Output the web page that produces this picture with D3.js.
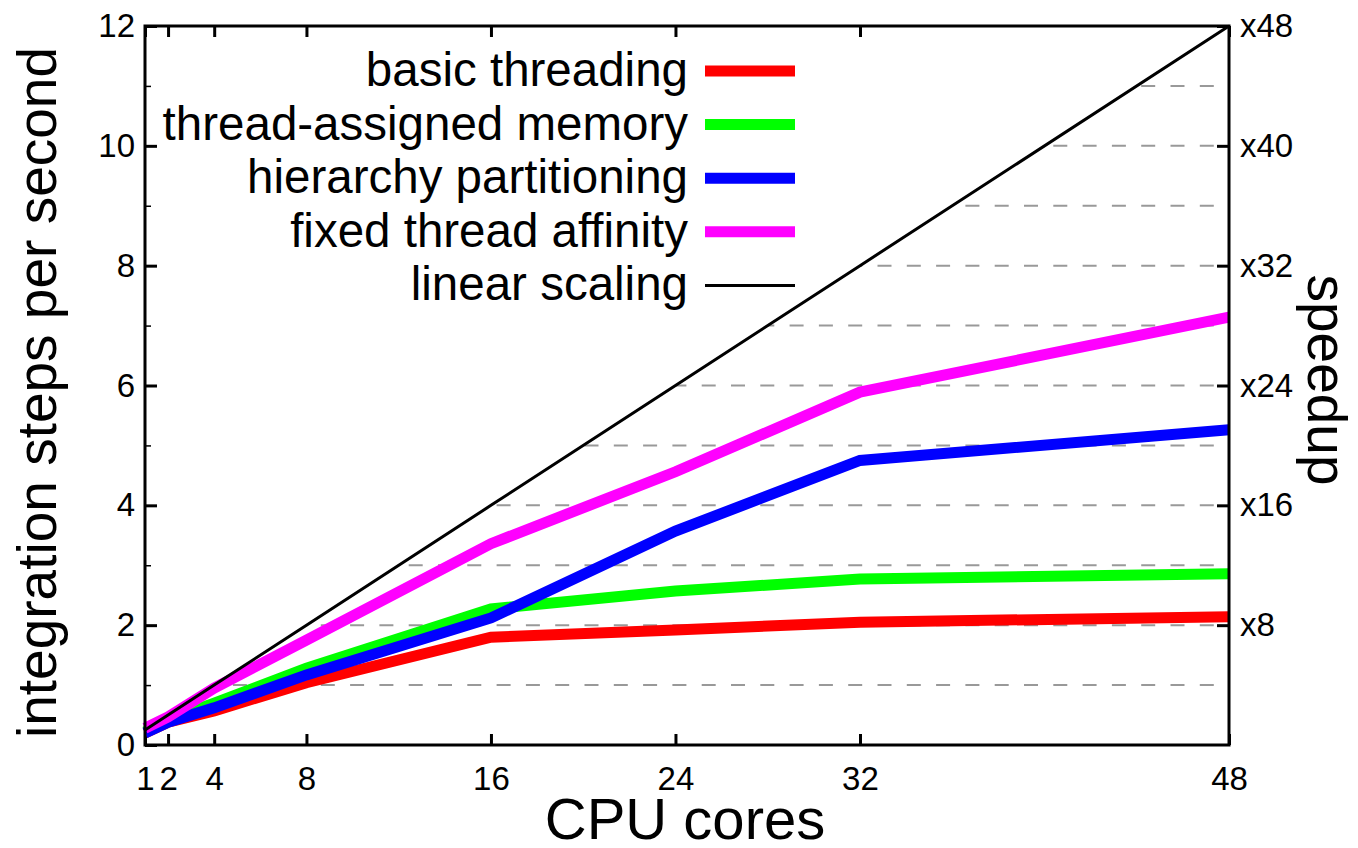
<!DOCTYPE html>
<html>
<head>
<meta charset="utf-8">
<script src="https://cdn.jsdelivr.net/npm/d3@7"></script>
<style>
  body { margin: 0; background: #fff; }
  svg { display: block; }
  text { font-family: "Liberation Sans", Arial, Helvetica, sans-serif; fill: #000; }
</style>
</head>
<body>
<div id="chart"></div>
<script>
// measured scaling: steps per second against core count
const cores = [1, 2, 4, 8, 16, 24, 32, 48];
const basicThreading = [0.20, 0.38, 0.57, 1.04, 1.80, 1.92, 2.05, 2.14];
const threadMemory = [0.22, 0.42, 0.70, 1.28, 2.27, 2.57, 2.77, 2.86];
const hierarchyPart = [0.20, 0.38, 0.62, 1.17, 2.12, 3.57, 4.75, 5.26];
const fixedAffinity = [0.28, 0.47, 0.95, 1.75, 3.36, 4.56, 5.89, 7.14];
const linearScaling = [0.25, 0.5, 1, 2, 4, 6, 8, 12];

const yTicks = [0, 2, 4, 6, 8, 10, 12];
const yMinorTicks = [1, 3, 5, 7, 9, 11];
const gridLevels = [1, 2, 3, 4, 5, 6, 7, 8, 9, 10, 11];
const speedupTicks = [8, 16, 24, 32, 40, 48];

const series = [
  { name: "basic threading", values: basicThreading, color: "#ff0000", width: 11 },
  { name: "thread-assigned memory", values: threadMemory, color: "#00ff00", width: 11 },
  { name: "hierarchy partitioning", values: hierarchyPart, color: "#0000ff", width: 11 },
  { name: "fixed thread affinity", values: fixedAffinity, color: "#ff00ff", width: 11 },
  { name: "linear scaling", values: linearScaling, color: "#000000", width: 3 }
];

const W = 1358, H = 848;
const plotLeft = 145, plotRight = 1229, plotTop = 26, plotBottom = 745;

const svg = d3.select("#chart").append("svg")
  .attr("width", W)
  .attr("height", H);

const x = d3.scaleLinear().domain([1, 48]).range([plotLeft, plotRight]);
const y = d3.scaleLinear().domain([0, 12]).range([plotBottom, plotTop]);
const y2 = d3.scaleLinear().domain([0, 48]).range([plotBottom, plotTop]);

// grid only shows below the linear scaling line
const area = d3.area()
  .x((d, i) => x(cores[i]))
  .y0(y(0))
  .y1(d => y(d));

svg.append("defs").append("clipPath")
  .attr("id", "underLinear")
  .append("path")
  .attr("d", area(linearScaling));

svg.append("g")
  .attr("clip-path", "url(#underLinear)")
  .selectAll("line")
  .data(gridLevels)
  .join("line")
  .attr("x1", x(1))
  .attr("x2", x(48))
  .attr("y1", d => y(d))
  .attr("y2", d => y(d))
  .attr("stroke", "#999")
  .attr("stroke-width", 2)
  .attr("stroke-dasharray", "14 15.3");

// axes, gnuplot style ticks pointing inwards
const xAxis = svg.append("g")
  .attr("transform", `translate(0,${plotBottom})`)
  .call(d3.axisBottom(x).tickValues(cores).tickSize(-11).tickPadding(22));

const xTop = svg.append("g")
  .attr("transform", `translate(0,${plotTop})`)
  .call(d3.axisTop(x).tickValues(cores).tickSize(-11).tickFormat(""));

const yAxis = svg.append("g")
  .attr("transform", `translate(${plotLeft},0)`)
  .call(d3.axisLeft(y).tickValues(yTicks).tickSize(-12).tickPadding(10));

const yMinor = svg.append("g")
  .attr("transform", `translate(${plotLeft},0)`)
  .call(d3.axisLeft(y).tickValues(yMinorTicks).tickSize(-6).tickFormat(""));

const yRight = svg.append("g")
  .attr("transform", `translate(${plotRight},0)`)
  .call(d3.axisRight(y2).tickValues(speedupTicks).tickSize(-12).tickPadding(11)
    .tickFormat(d => "x" + d));

[xAxis, xTop, yAxis, yMinor, yRight].forEach(g => {
  g.select(".domain").remove();
  g.selectAll(".tick line").attr("stroke", "#000").attr("stroke-width", 3);
  g.selectAll(".tick text").style("font-size", "33px").attr("fill", "#000");
});
yMinor.selectAll(".tick line").attr("stroke-width", 1.5);
xAxis.selectAll(".tick text").attr("dy", "0.71em");

// data lines
const line = d3.line()
  .x((d, i) => x(cores[i]))
  .y(d => y(d));

svg.append("g")
  .selectAll("path")
  .data(series)
  .join("path")
  .attr("d", d => line(d.values))
  .attr("fill", "none")
  .attr("stroke", d => d.color)
  .attr("stroke-width", d => d.width)
  .attr("stroke-linejoin", "miter")
  .attr("stroke-linecap", "butt");

// border
svg.append("rect")
  .attr("x", plotLeft)
  .attr("y", plotTop)
  .attr("width", plotRight - plotLeft)
  .attr("height", plotBottom - plotTop)
  .attr("fill", "none")
  .attr("stroke", "#000")
  .attr("stroke-width", 3);

// legend
const legend = svg.append("g")
  .selectAll("g")
  .data(series)
  .join("g")
  .attr("transform", (d, i) => `translate(0,${71 + i * 53.6})`);

legend.append("text")
  .attr("x", 688)
  .attr("y", 15)
  .attr("text-anchor", "end")
  .style("font-size", "47.5px")
  .text(d => d.name);

legend.append("line")
  .attr("x1", 705)
  .attr("x2", 795)
  .attr("stroke", d => d.color)
  .attr("stroke-width", d => d.width);

// axis titles
svg.append("text")
  .attr("x", 685)
  .attr("y", 839)
  .attr("text-anchor", "middle")
  .style("font-size", "58px")
  .text("CPU cores");

svg.append("text")
  .attr("transform", `translate(56,${(plotTop + plotBottom) / 2 + 7}) rotate(-90)`)
  .attr("text-anchor", "middle")
  .style("font-size", "55px")
  .text("integration steps per second");

svg.append("text")
  .attr("transform", `translate(1308,380) rotate(90)`)
  .attr("text-anchor", "middle")
  .style("font-size", "55px")
  .text("speedup");
</script>
</body>
</html>
